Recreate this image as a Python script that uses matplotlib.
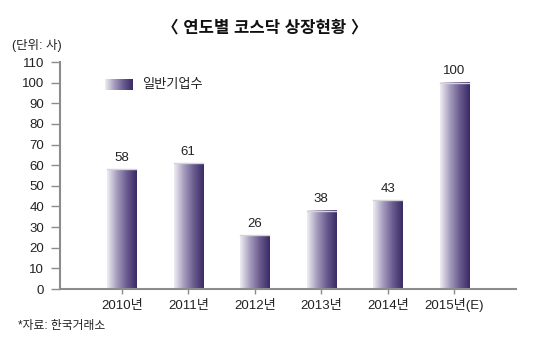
import numpy as np
import matplotlib.pyplot as plt
from matplotlib.colors import LinearSegmentedColormap

plt.rcParams['font.family'] = ['Liberation Sans', 'Noto Sans CJK KR', 'DejaVu Sans']

years = ['2010년', '2011년', '2012년', '2013년', '2014년', '2015년(E)']
counts = [58, 61, 26, 38, 43, 100]
series_name = '일반기업수'

# light-to-dark purple fill, left to right
grad = LinearSegmentedColormap.from_list('bar', ['#eeecf2', '#a59cbc', '#6a5b8f', '#3b2b66'])
axis_col = '#8c8c8c'
width = 0.44

fig = plt.figure(figsize=(5.35, 3.49), dpi=100)
ax = fig.add_axes([60/535, 1-289/349, 456/535, 227/349])

g = np.linspace(0, 1, 64).reshape(1, -1)
x = np.arange(len(years))
for xi, v in zip(x, counts):
    ax.imshow(g, cmap=grad, aspect='auto', extent=[xi - width/2, xi + width/2, 0, v],
              interpolation='bilinear', zorder=2)
    ax.plot([xi - width/2, xi + width/2], [v, v], color='#d4d4d8', lw=1, zorder=3)
    ax.text(xi, v + 2.5, str(v), ha='center', va='bottom', fontsize=9.5, color='#222222')

ax.set_xlim(-0.93, 5.93)
ax.set_ylim(0, 110)
ax.set_yticks(range(0, 111, 10))
ax.set_xticks(x)
ax.set_xticklabels(years, va='baseline')

for s in ['top', 'right']:
    ax.spines[s].set_visible(False)
for s in ['left', 'bottom']:
    ax.spines[s].set_color(axis_col)
    ax.spines[s].set_linewidth(1.5)
ax.tick_params(axis='y', length=6.5, width=1, color=axis_col, labelsize=9.5, pad=5, labelcolor='#222222')
ax.tick_params(axis='x', length=3.5, width=1, color=axis_col, labelsize=9.5, pad=11, labelcolor='#222222')

# legend swatch
lx0, lx1 = 105, 133
sw = fig.add_axes([lx0/535, 1-90/349, (lx1-lx0)/535, 11/349])
sw.imshow(g, cmap=grad, aspect='auto', interpolation='bilinear')
sw.axis('off')
fig.text(142/535, 1-85/349, series_name, fontsize=9.5, va='center', color='#222222')

fig.text(0.495, 1-28/349, '〈 연도별 코스닥 상장현황 〉', ha='center', va='center',
         fontsize=12, fontweight='bold', color='#111111')
fig.text(12/535, 1-45/349, '(단위: 사)', fontsize=9, va='center', color='#222222')
fig.text(18/535, 1-326/349, '*자료: 한국거래소', fontsize=8.5, va='center', color='#222222')

fig.savefig('out.png', dpi=100)
